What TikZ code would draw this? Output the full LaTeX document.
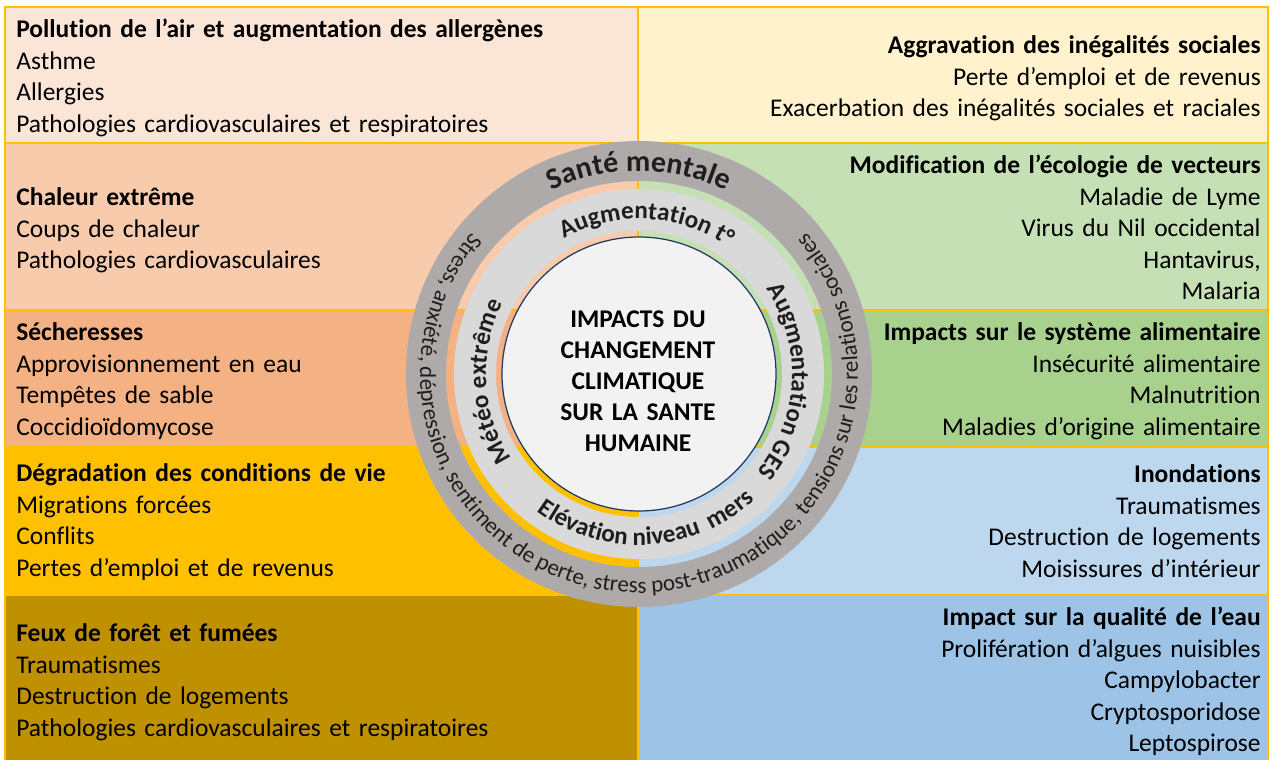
\documentclass[tikz,border=0pt]{standalone}
\usepackage{fontspec}
\setmainfont{Carlito}[Ligatures=NoCommon]
\usetikzlibrary{decorations.text}

\definecolor{peachA}{HTML}{FBE5D6}
\definecolor{peachB}{HTML}{F8CBAD}
\definecolor{peachC}{HTML}{F4B183}
\definecolor{goldA}{HTML}{FFC000}
\definecolor{goldB}{HTML}{BF9000}
\definecolor{creamA}{HTML}{FFF2CC}
\definecolor{greenA}{HTML}{C5E0B4}
\definecolor{greenB}{HTML}{A9D18E}
\definecolor{blueA}{HTML}{BDD7EE}
\definecolor{blueB}{HTML}{9DC3E6}
\definecolor{ringdark}{HTML}{AEAAAA}
\definecolor{ringlight}{HTML}{D9D9D9}
\definecolor{corefill}{HTML}{F2F2F2}
\definecolor{corerim}{HTML}{203864}
\definecolor{ringtext}{HTML}{1E1E1E}

\newcommand{\boxfont}{\fontsize{14.5}{18}\selectfont}
\newcommand{\santefont}{\fontsize{17}{17}\selectfont\bfseries\color{ringtext}}
\newcommand{\ringfont}{\fontsize{14.3}{14.3}\selectfont\bfseries\color{ringtext}}
\newcommand{\stressfont}{\fontsize{13.1}{13.1}\selectfont\color{ringtext}}

\tikzset{
  box/.style={draw=goldA, line width=0.6pt},
  lefttxt/.style={anchor=base west, inner sep=0pt, text width=12cm, align=left, font=\boxfont},
  righttxt/.style={anchor=base east, inner sep=0pt, text width=12cm, align=right, font=\boxfont},
  ringtxt/.style={decorate, decoration={text along path, text align=center, text={#1}}}
}

\begin{document}
\begin{tikzpicture}[x=0.02cm, y=0.02cm]
  \useasboundingbox (0,0) rectangle (1271,760);

  % left column
  \draw[box, fill=peachA] (5,753) rectangle (638,617);
  \draw[box, fill=peachB] (5,617) rectangle (638,450);
  \draw[box, fill=peachC] (5,450) rectangle (638,313);
  \draw[box, fill=goldA]  (5,313) rectangle (638,165);
  \draw[box, fill=goldB]  (5,165) rectangle (638,-5);

  % right column
  \draw[box, fill=creamA] (638,753) rectangle (1268,617);
  \draw[box, fill=greenA] (638,617) rectangle (1268,450);
  \draw[box, fill=greenB] (638,450) rectangle (1268,313);
  \draw[box, fill=blueA]  (638,313) rectangle (1268,165);
  \draw[box, fill=blueB]  (638,165) rectangle (1268,-5);

  \node[lefttxt] (pollution) at (16,722.5) {\textbf{Pollution de l’air et augmentation des allergènes}\\
    Asthme\\ Allergies\\ Pathologies cardiovasculaires et respiratoires};
  \node[lefttxt] (chaleur) at (16,554.5) {\textbf{Chaleur extrême}\\
    Coups de chaleur\\ Pathologies cardiovasculaires};
  \node[lefttxt] (secheresse) at (16,419.5) {\textbf{Sécheresses}\\
    Approvisionnement en eau\\ Tempêtes de sable\\ Coccidioïdomycose};
  \node[lefttxt] (conditions) at (16,278.5) {\textbf{Dégradation des conditions de vie}\\
    Migrations forcées\\ Conflits\\ Pertes d’emploi et de revenus};
  \node[lefttxt] (feux) at (16,118.5) {\textbf{Feux de forêt et fumées}\\
    Traumatismes\\ Destruction de logements\\ Pathologies cardiovasculaires et respiratoires};

  \node[righttxt] (inegalites) at (1261,706.5) {\textbf{Aggravation des inégalités sociales}\\
    Perte d’emploi et de revenus\\ Exacerbation des inégalités sociales et raciales};
  \node[righttxt] (vecteurs) at (1261,586.5) {\textbf{Modification de l’écologie de vecteurs}\\
    Maladie de Lyme\\ Virus du Nil occidental\\ Hantavirus,\\ Malaria};
  \node[righttxt] (alimentaire) at (1261,419.5) {\textbf{Impacts sur le système alimentaire}\\
    Insécurité alimentaire\\ Malnutrition\\ Maladies d’origine alimentaire};
  \node[righttxt] (inondations) at (1261,277.5) {\textbf{Inondations}\\
    Traumatismes\\ Destruction de logements\\ Moisissures d’intérieur};
  \node[righttxt] (eau) at (1261,134.5) {\textbf{Impact sur la qualité de l’eau}\\
    Prolifération d’algues nuisibles\\ Campylobacter\\ Cryptosporidose\\ Leptospirose};

  % rings
  \coordinate (c) at (639,386);
  \fill[ringdark, even odd rule] (c) circle[radius=233] (c) circle[radius=193];
  \fill[ringlight, even odd rule] (c) circle[radius=185] (c) circle[radius=143];
  \draw[fill=corefill, draw=corerim, line width=0.7pt] (c) circle[radius=137];

  \path[ringtxt={|\santefont|Santé mentale}] (c) ++(150:203) arc[start angle=150, end angle=30, radius=203];
  \path[ringtxt={|\stressfont|Stress, anxiété, dépression, sentiment de perte, stress post-traumatique, tensions sur les relations sociales}]
    (c) ++(126:219) arc[start angle=126, end angle=414, radius=219];
  \path[ringtxt={|\ringfont|Augmentation t°}] (c) ++(140:155) arc[start angle=140, end angle=34, radius=155];
  \path[ringtxt={|\ringfont|Augmentation GES}] (c) ++(60:153) arc[start angle=60, end angle=-66, radius=153];
  \path[ringtxt={|\ringfont|Météo extrême}] (c) ++(240:153) arc[start angle=240, end angle=126, radius=153];
  \path[ringtxt={|\ringfont|Elévation niveau{\ }{\ }mers}] (c) ++(220:171) arc[start angle=220, end angle=326, radius=171];

  \node[anchor=base, inner sep=0pt, text width=6cm, align=center, font=\fontsize{14.5}{17.6}\selectfont\bfseries] (impacts) at (638,432)
    {IMPACTS DU\\ CHANGEMENT\\ CLIMATIQUE\\ SUR LA SANTE\\ HUMAINE};
\end{tikzpicture}
\end{document}
